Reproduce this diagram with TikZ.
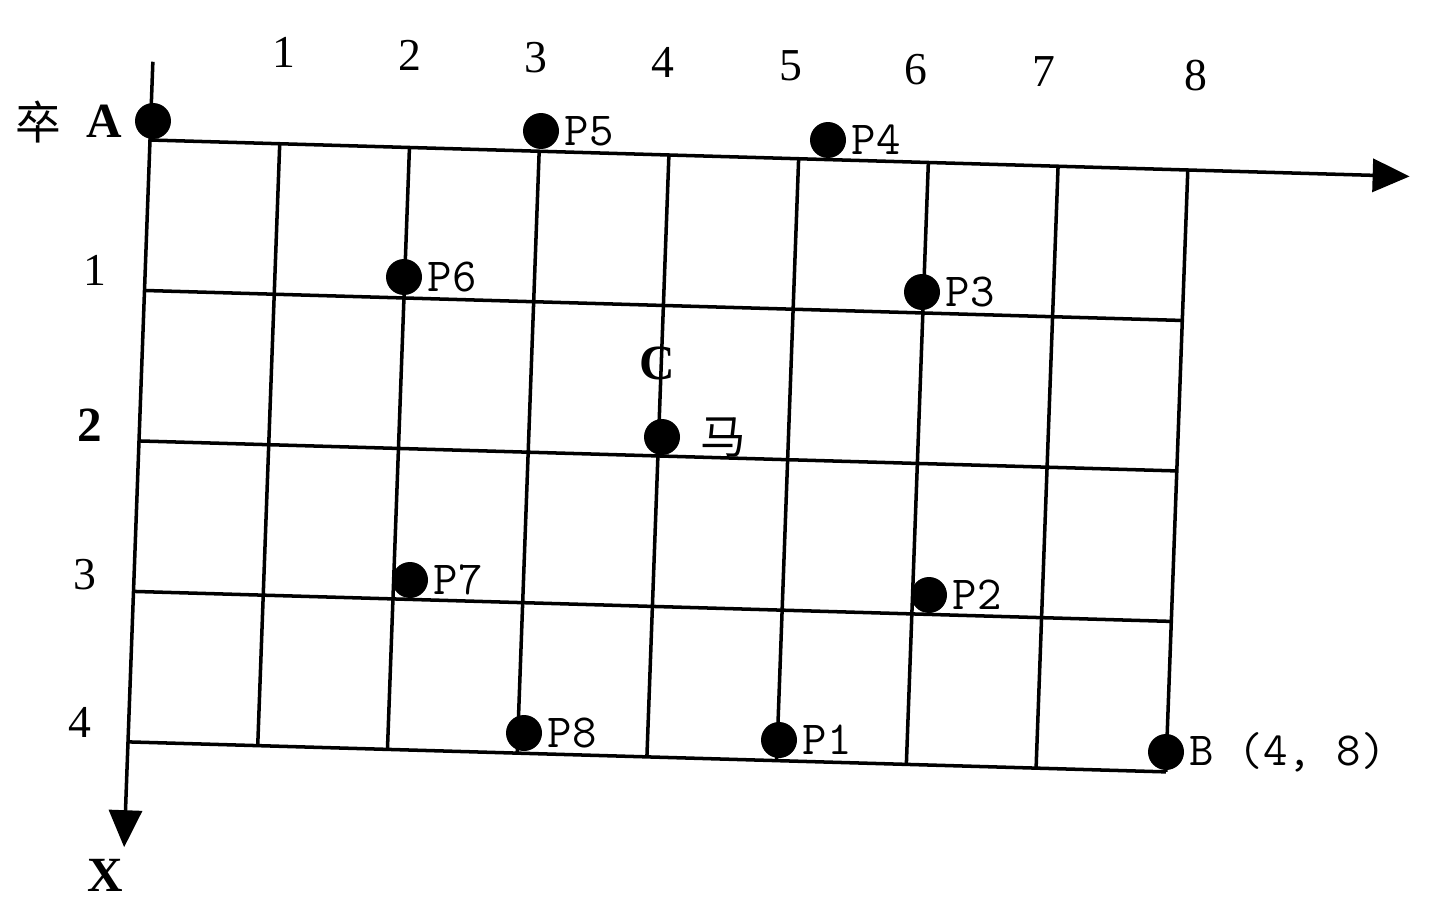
\documentclass[tikz,border=0pt]{standalone}
\usepackage{fontspec}
\setmainfont{Liberation Serif}
\newfontfamily\cjk{Noto Sans CJK SC}
\usetikzlibrary{positioning, arrows.meta}

\begin{document}
\begin{tikzpicture}[x=0.02cm, y=-0.02cm,
		punto/.style={circle, fill=black, minimum size=0.72cm, inner sep=0pt},
		etiq/.style={font=\fontsize{27}{27}\selectfont\ttfamily, inner sep=0pt},
		num/.style={font=\fontsize{26}{26}\selectfont, inner sep=0pt},
		negra/.style={font=\fontsize{28}{28}\selectfont\bfseries, inner sep=0pt},
		chino/.style={font=\fontsize{26}{26}\selectfont\cjk, inner sep=0pt},
		linea/.style={line width=2pt},
		eje/.style={line width=2pt, -{Triangle[length=0.74cm, width=0.66cm]}}]
	\useasboundingbox (0,0) rectangle (1446,912);
	% malla inclinada del tablero
	\begin{scope}[shift={(150,140)}, x={(2.595cm,-0.075cm)}, y={(-0.11cm,-3.01cm)}]
		\foreach \i in {1,...,8} \draw[linea] (\i,0) -- (\i,4);
		\foreach \j in {1,...,4} \draw[linea] (0,\j) -- (8,\j);
		\coordinate (origen) at (0,0);
		\coordinate (arriba) at (0,-0.52);
		\coordinate (finX) at (0,4.70);
		\coordinate (finY) at (9.71,0);
	\end{scope}
	\draw[linea] (arriba) -- (origen);
	\draw[eje] (origen) -- (finX);
	\draw[eje] (origen) -- (finY);
	% numeros de columnas y filas
	\foreach \n/\x/\y in {1/284/52, 2/410/55, 3/536/58, 4/663/62, 5/791/66, 6/916/70, 7/1044/72, 8/1196/76}
		\node[num] (col\n) at (\x,\y) {\n};
	\foreach \n/\x/\y in {1/95/270, 3/85/575, 4/80/722}
		\node[num] (fila\n) at (\x,\y) {\n};
	\node[negra] (fila2) at (90,425) {2};
	% piezas y puntos
	\node[punto] (A)  at (153,121) {};
	\node[punto] (p5) at (541,131) {};
	\node[punto] (p4) at (828,140) {};
	\node[punto] (p6) at (404,277) {};
	\node[punto] (p3) at (922,292) {};
	\node[punto] (caballo) at (662,437) {};
	\node[punto] (p7) at (410,580) {};
	\node[punto] (p2) at (929,595) {};
	\node[punto] (p8) at (524,733) {};
	\node[punto] (p1) at (779,740) {};
	\node[punto] (B)  at (1166,752) {};
	% etiquetas
	\node[chino] (zu) at (38,122) {卒};
	\node[negra, left=7pt of A] (etA) {A};
	\node[negra] (etC) at (657,363) {C};
	\node[chino, right=11pt of caballo] (etMa) {马};
	\node[negra] (etX) at (105,875) {X};
	\foreach \p in {1,...,8}
		\node[etiq, right=3pt of p\p] (et\p) {P\p};
	\node[etiq, right=3pt of B] (etB) {B (4, 8)};
\end{tikzpicture}
\end{document}
